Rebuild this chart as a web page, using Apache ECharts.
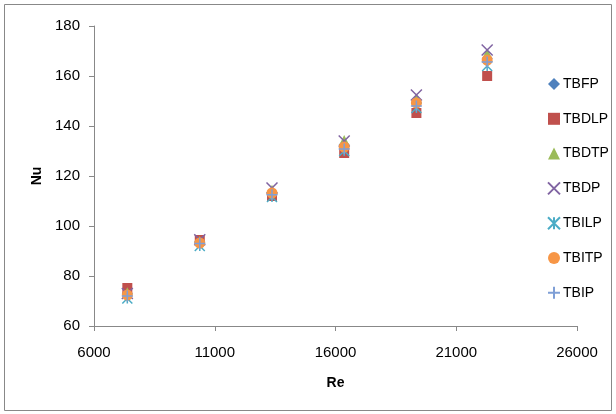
<!DOCTYPE html>
<html><head><meta charset="utf-8">
<script src="https://cdn.jsdelivr.net/npm/echarts@6/dist/echarts.min.js"></script>
<style>html,body{margin:0;padding:0;background:#fff}#c{width:616px;height:414px}</style>
</head><body><div id="c"></div>
<script>
const re = [7380, 10380, 13370, 16360, 19350, 22280];
const seriesNames = ['TBFP','TBDLP','TBDTP','TBDP','TBILP','TBITP','TBIP'];
const TBFP  = [73.0, 93.5, 112.8, 132.5, 149.5, 167.0];
const TBDLP = [75.2, 94.4, 112.0, 129.2, 145.2, 160.0];
const TBDTP = [73.5, 94.0, 114.5, 134.4, 151.0, 169.0];
const TBDP  = [73.0, 94.5, 115.2, 134.0, 152.4, 170.4];
const TBILP = [71.0, 92.0, 111.6, 130.0, 147.2, 164.0];
const TBITP = [72.4, 93.2, 113.2, 131.6, 149.2, 166.4];
const TBIP  = [72.0, 93.0, 112.5, 130.8, 148.0, 165.6];
const values = [TBFP, TBDLP, TBDTP, TBDP, TBILP, TBITP, TBIP];
const yTicks = {min: 60, max: 180, interval: 20};
const xTicks = {min: 6000, max: 26000, interval: 5000};

const styles = [
  {symbol:'diamond', size:11, color:'#4F81BD'},
  {symbol:'rect', size:10, color:'#C0504D'},
  {symbol:'triangle', size:10, color:'#9BBB59'},
  {symbol:'path://M0,0L10,10M10,0L0,10', size:11, color:'transparent', border:'#8064A2'},
  {symbol:'path://M0,0L10,10M10,0L0,10M5,0L5,10', size:10, color:'transparent', border:'#4BACC6'},
  {symbol:'circle', size:11, color:'#F79646'},
  {symbol:'path://M0,5L10,5M5,0L5,10', size:11, color:'transparent', border:'#7F9FD6'}
];

const chart = echarts.init(document.getElementById('c'));
const font = 'Liberation Sans, Arial, sans-serif';
chart.setOption({
  animation:false,
  graphic:[{type:'rect', shape:{x:4.5,y:4.5,width:607,height:406}, style:{fill:'none', stroke:'#888', lineWidth:1}}],
  grid:{left:94, right:39, top:26, bottom:88},
  legend:{
    orient:'vertical', left:542, top:72, itemGap:20.8, itemWidth:12, itemHeight:12,
    textStyle:{fontFamily:font, fontSize:14, color:'#000', padding:[0,0,0,-2]},
    data: seriesNames
  },
  xAxis:{
    type:'value', min:xTicks.min, max:xTicks.max, interval:xTicks.interval,
    name:'Re', nameLocation:'middle', nameGap:50,
    nameTextStyle:{fontFamily:font, fontSize:14, fontWeight:'bold', color:'#000'},
    axisLine:{show:true, lineStyle:{color:'#888'}},
    axisTick:{show:true, length:5, lineStyle:{color:'#888'}},
    axisLabel:{fontFamily:font, fontSize:15, color:'#000', margin:19, formatter:v=>String(v)},
    splitLine:{show:false}
  },
  yAxis:{
    type:'value', min:yTicks.min, max:yTicks.max, interval:yTicks.interval,
    name:'Nu', nameLocation:'middle', nameGap:50,
    nameTextStyle:{fontFamily:font, fontSize:14, fontWeight:'bold', color:'#000'},
    axisLine:{show:true, lineStyle:{color:'#888'}},
    axisTick:{show:true, length:5, lineStyle:{color:'#888'}},
    axisLabel:{fontFamily:font, fontSize:15, color:'#000', margin:14},
    splitLine:{show:false}
  },
  series: seriesNames.map((n,i)=>({
    name:n, type:'scatter', symbol:styles[i].symbol, symbolSize:styles[i].size,
    itemStyle: styles[i].border ? {color:styles[i].color, borderColor:styles[i].border, borderWidth:1.5, opacity:1} : {color:styles[i].color, opacity:1},
    data: re.map((x,j)=>[x, values[i][j]])
  }))
});
</script></body></html>
